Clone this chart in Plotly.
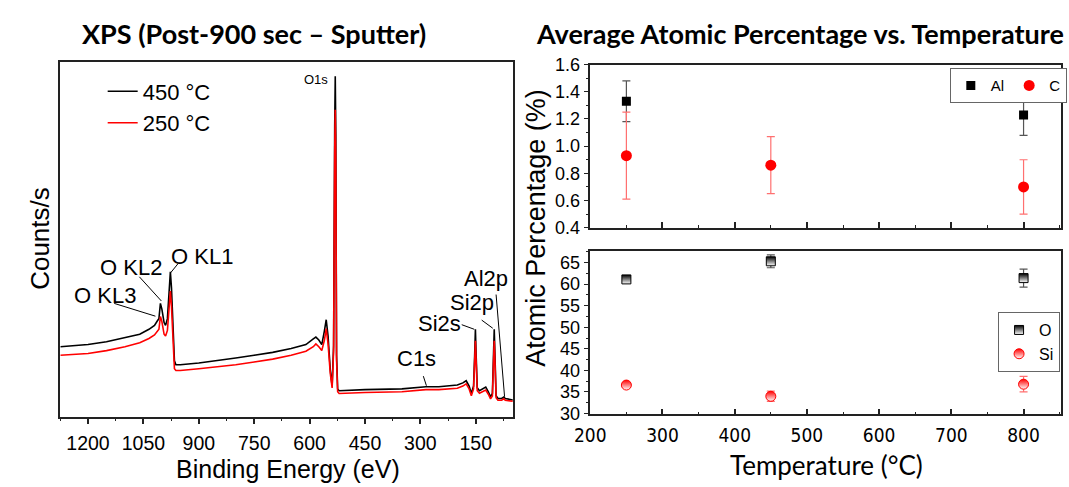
import plotly.graph_objects as go

# ---------------- Left panel: XPS survey spectra ----------------
energy_ev = [1275, 1240, 1200, 1150, 1100, 1060, 1035, 1020, 1012, 1008, 1004, 1000, 994, 990,
             985, 980, 977, 974, 970, 966, 962, 950, 900, 850, 800, 750, 700, 650, 610, 590,
             583, 575, 567, 560, 555, 550, 544, 539, 535, 532, 530.5, 529, 527, 524, 520, 450,
             350, 285, 250, 200, 185, 176, 168, 162, 156, 153, 151, 149, 146, 140, 130, 123,
             116, 110, 105, 102, 100, 98, 95, 90, 80, 74, 70, 50]
counts_450 = [19.7, 20.0, 20.3, 21.1, 22.2, 23.2, 24.6, 25.7, 27.0, 27.6, 31.9, 30.3, 26.5, 25.7,
              27.6, 36.2, 40.8, 36.2, 22.7, 15.7, 14.6, 14.6, 15.1, 15.7, 16.5, 17.3, 18.1, 19.2, 20.3, 21.9,
              22.4, 21.6, 20.3, 24.1, 27.3, 22.7, 13.2, 8.6, 20.0, 82.2, 95.9, 79.5, 17.3, 7.8, 7.3, 7.6,
              7.8, 8.4, 8.4, 8.9, 9.5, 10.1, 8.6, 6.5, 8.6, 17.3, 24.6, 17.3, 8.1, 7.3, 7.8, 8.3,
              7.0, 5.6, 6.5, 17.3, 24.6, 17.3, 5.9, 5.1, 5.1, 5.5, 5.1, 4.7]
counts_250 = [17.3, 17.6, 17.8, 18.6, 19.7, 20.8, 22.0, 23.0, 24.3, 24.6, 28.2, 26.8, 23.2, 22.7,
              24.3, 31.0, 35.4, 31.0, 19.5, 13.5, 13.0, 13.0, 13.5, 14.0, 14.6, 15.4, 16.2, 17.3, 18.4, 19.7,
              20.5, 19.7, 18.6, 21.5, 24.8, 20.5, 12.2, 8.1, 18.4, 75.0, 86.5, 72.0, 16.0, 7.0, 6.5, 6.8,
              7.0, 7.6, 7.6, 8.0, 8.6, 9.2, 7.8, 5.9, 7.8, 15.5, 21.4, 15.5, 7.3, 6.6, 7.0, 7.5,
              6.3, 5.0, 5.8, 15.5, 21.4, 15.5, 5.3, 4.6, 4.6, 5.0, 4.6, 4.3]

# peak labels: (text, label x, label y, leader start x, start y, end x, end y)
peak_labels = ["O1s", "O KL1", "O KL2", "O KL3", "C1s", "Si2s", "Si2p", "Al2p"]
label_x = [582, 891, 1083, 1155, 310, 248, 159, 123]
label_y = [95.1, 45.1, 41.9, 34.1, 16.5, 26.3, 32.2, 38.9]
lead_x0 = [None, 957, 1061, 1129, 292, 188, 134, 95]
lead_y0 = [None, 43.0, 39.4, 31.9, 11.4, 25.9, 27.2, 34.4]
lead_x1 = [None, 976.6, 1001.5, 1017.5, 283.6, 154, 104, 72]
lead_y1 = [None, 40.5, 32.6, 28.3, 8.7, 24.6, 24.9, 5.6]

# ---------------- Right panels: average atomic percentage ----------------
al_temp = [250, 800]
al_pct = [1.33, 1.23]
al_err = [0.15, 0.15]
c_temp = [250, 450, 800]
c_pct = [0.93, 0.86, 0.70]
c_err = [0.32, 0.21, 0.20]
o_temp = [250, 450, 800]
o_pct = [61.1, 65.3, 61.4]
o_err = [0.4, 1.5, 2.1]
si_temp = [250, 450, 800]
si_pct = [36.6, 34.0, 36.8]
si_err = [0.5, 1.2, 1.8]

ARIAL = "Liberation Sans, Arial, sans-serif"
NARROW = "Liberation Sans Narrow, DejaVu Sans Condensed, Arial Narrow, sans-serif"
TITLEF = "Lato, Open Sans, sans-serif"

fig = go.Figure()

fig.add_trace(go.Scatter(x=energy_ev, y=counts_450, mode="lines", name="450 \u00b0C",
                         line=dict(color="#000000", width=1.6), xaxis="x", yaxis="y", legend="legend"))
fig.add_trace(go.Scatter(x=energy_ev, y=counts_250, mode="lines", name="250 \u00b0C",
                         line=dict(color="#ff0000", width=1.6), xaxis="x", yaxis="y", legend="legend"))

fig.add_trace(go.Scatter(x=al_temp, y=al_pct, mode="markers", name="Al",
                         marker=dict(symbol="square", size=9, color="#000000"),
                         error_y=dict(type="data", array=al_err, color="#555555", thickness=1.2, width=4),
                         xaxis="x2", yaxis="y2", legend="legend2"))
fig.add_trace(go.Scatter(x=c_temp, y=c_pct, mode="markers", name="C",
                         marker=dict(symbol="circle", size=11, color="#ff0000"),
                         error_y=dict(type="data", array=c_err, color="#ff7070", thickness=1.2, width=4),
                         xaxis="x2", yaxis="y2", legend="legend2"))
fig.add_trace(go.Scatter(x=o_temp, y=o_pct, mode="markers", name="O",
                         marker=dict(symbol="square", size=9, color="#000000",
                                     gradient=dict(type="vertical", color="#ffffff"),
                                     line=dict(color="#000000", width=1)),
                         error_y=dict(type="data", array=o_err, color="#555555", thickness=1.2, width=4),
                         xaxis="x3", yaxis="y3", legend="legend3"))
fig.add_trace(go.Scatter(x=si_temp, y=si_pct, mode="markers", name="Si",
                         marker=dict(symbol="circle", size=10, color="#ff0000",
                                     gradient=dict(type="vertical", color="#ffffff"),
                                     line=dict(color="#ff0000", width=1)),
                         error_y=dict(type="data", array=si_err, color="#ff7070", thickness=1.2, width=4),
                         xaxis="x3", yaxis="y3", legend="legend3"))

shapes = []
annotations = []
for i, t in enumerate(peak_labels):
    annotations.append(dict(text=t, x=label_x[i], y=label_y[i], xref="x", yref="y",
                            showarrow=False, xanchor="center", yanchor="middle",
                            font=dict(family=ARIAL, size=13 if t == "O1s" else 22, color="#000")))
    if lead_x0[i] is not None:
        shapes.append(dict(type="line", xref="x", yref="y", x0=lead_x0[i], y0=lead_y0[i],
                           x1=lead_x1[i], y1=lead_y1[i], line=dict(color="#000", width=1)))

# titles and axis titles
annotations += [
    dict(text="<b>XPS (Post-900 sec \u2013 Sputter)</b>", x=242 / 1069, y=1 - 24 / 487, xref="paper", yref="paper",
         showarrow=False, xanchor="center", yanchor="middle", font=dict(family=TITLEF, size=27, color="#000")),
    dict(text="<b>Average Atomic Percentage vs. Temperature</b>", x=796 / 1069, y=1 - 24 / 487, xref="paper",
         yref="paper", showarrow=False, xanchor="center", yanchor="middle",
         font=dict(family=TITLEF, size=27, color="#000")),
    dict(text="Counts/s", x=25 / 1069, y=1 - 238 / 487, xref="paper", yref="paper", textangle=-90,
         showarrow=False, xanchor="center", yanchor="middle", font=dict(family=ARIAL, size=26, color="#000")),
    dict(text="Binding Energy (eV)", x=276 / 1069, y=1 - 479 / 487, xref="paper", yref="paper",
         showarrow=False, xanchor="center", yanchor="middle", font=dict(family=ARIAL, size=25, color="#000")),
    dict(text="Atomic Percentage (%)", x=528 / 1069, y=1 - 227 / 487, xref="paper", yref="paper", textangle=-90,
         showarrow=False, xanchor="center", yanchor="middle", font=dict(family=ARIAL, size=27, color="#000")),
    dict(text="Temperature (\u00b0C)", x=823 / 1069, y=1 - 475 / 487, xref="paper", yref="paper",
         showarrow=False, xanchor="center", yanchor="middle", font=dict(family=TITLEF, size=26, color="#000")),
]

frame = dict(showline=True, mirror=True, linecolor="#222222", linewidth=1.5, showgrid=False, zeroline=False)

fig.update_layout(
    width=1069, height=487, margin=dict(l=0, r=0, t=0, b=0),
    paper_bgcolor="white", plot_bgcolor="white",
    xaxis=dict(domain=[45 / 1069, 505 / 1069], range=[1275, 48], anchor="y",
               tick0=0, dtick=150, ticks="outside", ticklen=6, tickwidth=1.5, tickcolor="#222",
               minor=dict(dtick=75, tick0=0, ticks="outside", ticklen=3, tickwidth=1.2, tickcolor="#222"),
               tickfont=dict(family=ARIAL, size=19.5, color="#000"), ticklabelstandoff=2, **frame),
    yaxis=dict(domain=[1 - 424 / 487, 1 - 54 / 487], range=[0, 100], anchor="x",
               showticklabels=False, ticks="", **frame),
    xaxis2=dict(domain=[583 / 1069, 1061 / 1069], range=[200, 852], anchor="y2",
                tick0=0, dtick=100, ticks="inside", ticklen=6, tickwidth=1.5, tickcolor="#222",
                minor=dict(dtick=50, tick0=0, ticks="inside", ticklen=3, tickwidth=1.2, tickcolor="#222"),
                showticklabels=False, **frame),
    yaxis2=dict(domain=[1 - 227 / 487, 1 - 57 / 487], range=[0.4, 1.6], anchor="x2",
                tick0=0, dtick=0.2, tickformat=".1f", ticks="outside", ticklen=5, tickwidth=1.3, tickcolor="#222",
                minor=dict(dtick=0.1, tick0=0, ticks="outside", ticklen=3, tickwidth=1, tickcolor="#222"),
                tickfont=dict(family=ARIAL, size=18, color="#000"), **frame),
    xaxis3=dict(domain=[583 / 1069, 1061 / 1069], range=[200, 852], anchor="y3",
                tick0=0, dtick=100, ticks="inside", ticklen=6, tickwidth=1.5, tickcolor="#222",
                minor=dict(dtick=50, tick0=0, ticks="inside", ticklen=3, tickwidth=1.2, tickcolor="#222"),
                tickfont=dict(family=NARROW, size=19, color="#000"), ticklabelstandoff=3, **frame),
    yaxis3=dict(domain=[1 - 421.7 / 487, 1 - 251.7 / 487], range=[29.8, 67.6], anchor="x3",
                tick0=0, dtick=5, ticks="outside", ticklen=5, tickwidth=1.3, tickcolor="#222",
                minor=dict(dtick=2.5, tick0=0, ticks="outside", ticklen=3, tickwidth=1, tickcolor="#222"),
                tickfont=dict(family=ARIAL, size=18, color="#000"), **frame),
    legend=dict(x=88 / 1069, y=1 - 63 / 487, xanchor="left", yanchor="top", bgcolor="rgba(0,0,0,0)",
                font=dict(family=ARIAL, size=22, color="#000"), tracegroupgap=0),
    legend2=dict(x=948 / 1069, y=1 - 60.7 / 487, xanchor="left", yanchor="top", orientation="h",
                 bgcolor="white", bordercolor="#666", borderwidth=1,
                 font=dict(family=ARIAL, size=15, color="#000")),
    legend3=dict(x=997 / 1069, y=1 - 315 / 487, xanchor="left", yanchor="top",
                 bgcolor="white", bordercolor="#666", borderwidth=1,
                 font=dict(family=ARIAL, size=16, color="#000")),
    shapes=shapes, annotations=annotations,
)

fig.write_html("out.html")
